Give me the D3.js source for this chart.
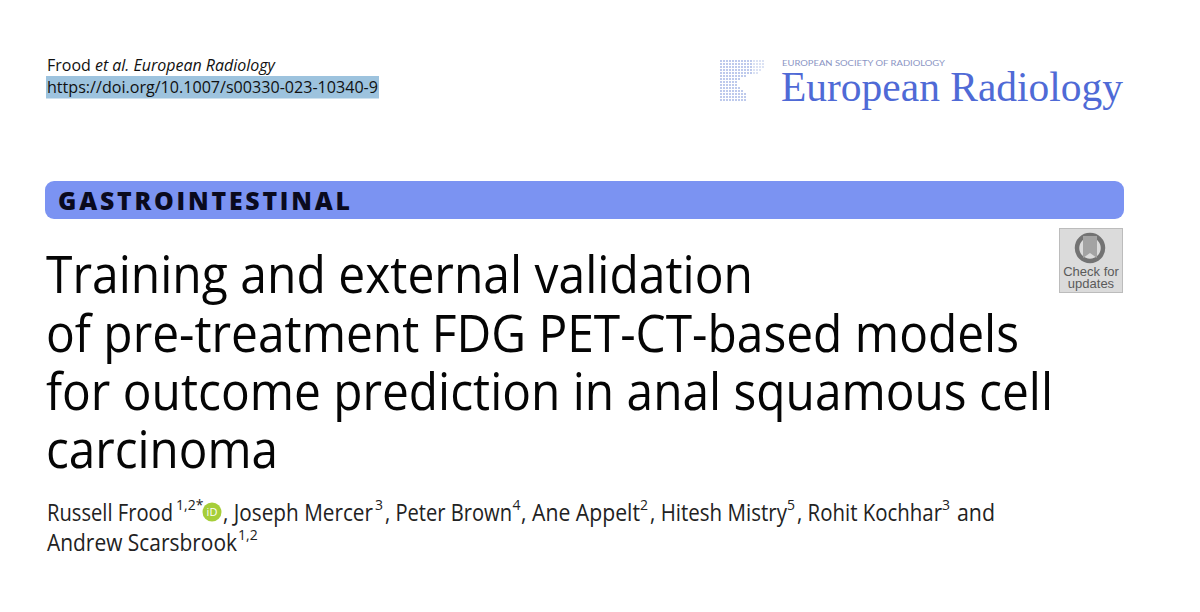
<!DOCTYPE html>
<html>
<head>
<meta charset="utf-8">
<script src="https://cdn.jsdelivr.net/npm/d3@7"></script>
<style>
html, body { margin: 0; padding: 0; background: #fff; }
text { font-family: "Open Sans", "Noto Sans", sans-serif; fill: #111; }
</style>
</head>
<body>
<svg id="page" width="1200" height="612"></svg>
<script>
var journalLine = [["Frood ", "normal"], ["et al. European Radiology", "italic"]];
var doiText = "https://doi.org/10.1007/s00330-023-10340-9";
var societyText = "EUROPEAN SOCIETY OF RADIOLOGY";
var journalName = "European Radiology";
var sectionName = "GASTROINTESTINAL";
var titleLines = [
    "Training and external validation",
    "of pre-treatment FDG PET-CT-based models",
    "for outcome prediction in anal squamous cell",
    "carcinoma"
];
var titleWidths = [707, 973, 1007, 232];
// name, x, width, superscript, x
var authorLine1 = [
    ["Russell Frood", 47, 126, "1,2*", 176],
    [", Joseph Mercer", 223, 150, "3", 375],
    [", Peter Brown", 385, 127, "4", 512.5],
    [", Ane Appelt", 521, 119, "2", 640],
    [", Hitesh Mistry", 650, 137, "5", 787],
    [", Rohit Kochhar", 797, 145, "3", 942],
    ["and", 957, 38, "", 0]
];
var authorLine2 = [["Andrew Scarsbrook", 47, 190, "1,2", 238]];
var logoRows = [15, 15, 15, 14, 13, 9, 7, 6, 6, 7, 8, 9, 9, 9];
var updateLabels = ["Check for", "updates"];

var svg = d3.select("#page");

// running header
var head = svg.append("text").attr("x", 47).attr("y", 71)
    .attr("font-size", 16).attr("textLength", 228).attr("lengthAdjust", "spacingAndGlyphs");
head.selectAll("tspan").data(journalLine).enter().append("tspan")
    .attr("font-style", function(d) { return d[1]; })
    .text(function(d) { return d[0]; });

svg.append("rect").attr("x", 46).attr("y", 76).attr("width", 333).attr("height", 22.5).attr("fill", "#9dc3de");
svg.append("text").attr("x", 47).attr("y", 93).attr("font-size", 16)
    .attr("textLength", 331).attr("lengthAdjust", "spacingAndGlyphs").text(doiText);

// journal logo, dot block
var logoX = d3.scaleLinear().domain([0, 14]).range([721, 763]);
var logoY = d3.scaleLinear().domain([0, logoRows.length - 1]).range([61, 100]);
var logo = svg.append("g").attr("fill", "#a9b9e6");
logoRows.forEach(function(n, row) {
    logo.selectAll(".r" + row).data(d3.range(n)).enter().append("circle")
        .attr("class", "r" + row)
        .attr("cx", function(d) { return logoX(d); })
        .attr("cy", logoY(row))
        .attr("r", 1)
        .attr("opacity", function(d) { return d > 10 ? 0.55 : 1; });
});

svg.append("text").attr("x", 782).attr("y", 66).attr("font-size", 8)
    .attr("textLength", 163).attr("lengthAdjust", "spacingAndGlyphs")
    .style("font-family", "Lato, sans-serif").style("fill", "#8b95c4").text(societyText);
svg.append("text").attr("x", 781).attr("y", 101).attr("font-size", 43)
    .attr("textLength", 342).attr("lengthAdjust", "spacingAndGlyphs")
    .style("font-family", "'Liberation Serif', serif").style("fill", "#4f6ad6").text(journalName);

// section band
svg.append("rect").attr("x", 45).attr("y", 181).attr("width", 1079).attr("height", 38).attr("rx", 9)
    .attr("fill", "#7b93f2");
svg.append("text").attr("x", 58).attr("y", 210).attr("font-size", 24.8).attr("font-weight", 800)
    .attr("textLength", 292).attr("lengthAdjust", "spacing").style("fill", "#0a0a1e").text(sectionName);

// title
svg.selectAll(".title").data(titleLines).enter().append("text")
    .attr("class", "title")
    .attr("x", 46)
    .attr("y", function(d, i) { return 293.3 + i * 58.3; })
    .attr("font-size", 51)
    .attr("textLength", function(d, i) { return titleWidths[i]; })
    .attr("lengthAdjust", "spacingAndGlyphs")
    .style("fill", "#050505")
    .text(function(d) { return d; });

// authors
function authorRow(parts, y) {
    var row = svg.append("g").style("font-size", "23px");
    row.selectAll(".name").data(parts).enter().append("text")
        .attr("class", "name")
        .attr("x", function(d) { return d[1]; })
        .attr("y", y)
        .attr("textLength", function(d) { return d[2]; })
        .attr("lengthAdjust", "spacingAndGlyphs")
        .style("fill", "#222")
        .text(function(d) { return d[0]; });
    row.selectAll(".sup").data(parts.filter(function(d) { return d[3]; })).enter().append("text")
        .attr("class", "sup")
        .attr("x", function(d) { return d[4]; })
        .attr("y", y - 10.5)
        .style("font-size", "14px")
        .style("fill", "#222")
        .text(function(d) { return d[3]; });
}
authorRow(authorLine1, 520.8);
authorRow(authorLine2, 550.8);

// orcid mark
svg.append("circle").attr("cx", 212).attr("cy", 512).attr("r", 9.5).attr("fill", "#a6ce39");
svg.append("text").attr("x", 212).attr("y", 516).attr("text-anchor", "middle")
    .attr("font-size", 11).style("fill", "#fff").text("iD");

// check for updates badge
var badge = svg.append("g");
badge.append("rect").attr("x", 1059.5).attr("y", 228.5).attr("width", 63).attr("height", 64)
    .attr("fill", "#dbdbdb").attr("stroke", "#bcbcbc");
badge.append("circle").attr("cx", 1090).attr("cy", 248).attr("r", 13).attr("fill", "none")
    .attr("stroke", "#737373").attr("stroke-width", 4.5);
badge.append("path").attr("d", d3.line()([[1083, 236], [1097, 236], [1097, 258], [1090, 253], [1083, 258]]) + "Z")
    .attr("fill", "#a3a3a3");
badge.selectAll("text").data(updateLabels).enter().append("text")
    .attr("x", 1091)
    .attr("y", function(d, i) { return 276 + i * 12; })
    .attr("text-anchor", "middle")
    .attr("font-size", 13)
    .style("font-family", "'Liberation Sans', sans-serif")
    .style("fill", "#5a5a5a")
    .text(function(d) { return d; });
</script>
</body>
</html>
